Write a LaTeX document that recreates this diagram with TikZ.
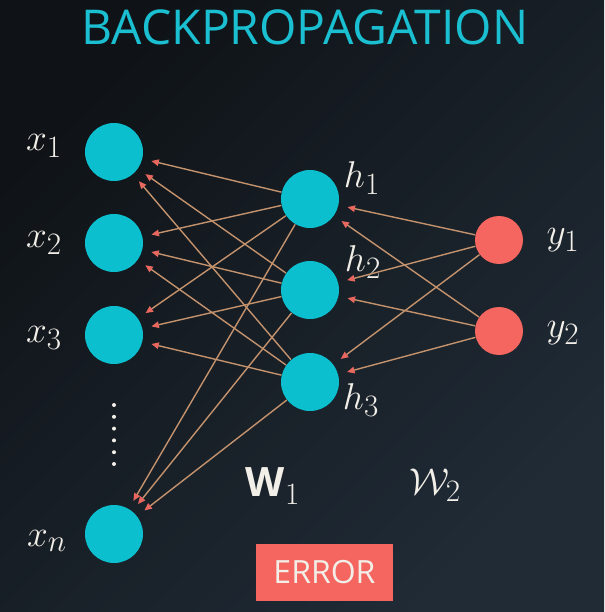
\documentclass[tikz,border=0pt]{standalone}
\usepackage{fontspec}
\setsansfont{Open Sans}
\usetikzlibrary{arrows.meta}
\definecolor{bgtl}{HTML}{0F1317}
\definecolor{bgbr}{HTML}{202B36}
\definecolor{nodecyan}{HTML}{0BBFCF}
\definecolor{titlecyan}{HTML}{1ABFD1}
\definecolor{nodered}{HTML}{F4665F}
\definecolor{edgetan}{HTML}{C4926C}
\definecolor{tipred}{HTML}{E8675E}
\definecolor{labelwhite}{HTML}{F2EEE8}

\begin{document}
\begin{tikzpicture}[x=1pt, y=-1pt, thick,
  inp/.style = {circle, fill=nodecyan, minimum size=58pt, inner sep=0pt},
  outp/.style = {circle, fill=nodered, minimum size=48pt, inner sep=0pt},
  lab/.style = {text=labelwhite, font=\fontsize{24.88}{28}\selectfont, scale=1.5, transform shape},
  back/.style = {draw=edgetan, line width=1.4pt, -{Triangle[length=7.5pt,width=6.5pt,color=tipred]}, shorten >=9pt}]
  \useasboundingbox (0,0) rectangle (604,612);
  \shade[top color=bgtl, bottom color=bgbr, shading angle=45] (0,0) rectangle (604,612);
  \node[text=titlecyan, font=\sffamily\fontsize{48}{50}\selectfont] (title) at (305,27) {BACKPROPAGATION};
  \node[inp] (x1) at (114,152) {};
  \node[inp] (x2) at (114,243) {};
  \node[inp] (x3) at (114,335) {};
  \node[inp] (xn) at (114,534) {};
  \node[inp] (h1) at (310,199) {};
  \node[inp] (h2) at (310,290) {};
  \node[inp] (h3) at (310,382) {};
  \node[outp] (y1) at (499,240) {};
  \node[outp] (y2) at (499,331) {};
  \node[lab] (lx1) at (44,146) {$x_1$};
  \node[lab] (lx2) at (44,243) {$x_2$};
  \node[lab] (lx3) at (44,338) {$x_3$};
  \node[lab] (lxn) at (47,541) {$x_n$};
  \node[lab] (lh1) at (362,178) {$h_1$};
  \node[lab] (lh2) at (363,262) {$h_2$};
  \node[lab] (lh3) at (361,400) {$h_3$};
  \node[lab] (ly1) at (563,240) {$y_1$};
  \node[lab] (ly2) at (563,333) {$y_2$};
  \node[lab] (w1) at (273,486) {{\sffamily\bfseries\fontsize{27}{30}\selectfont W}$_1$};
  \node[lab] (w2) at (435,485) {$\mathcal{W}_2$};
  \node[fill=nodered, minimum width=137pt, minimum height=57pt, text=labelwhite, font=\sffamily\fontsize{32}{34}\selectfont] (err) at (324.5,572.5) {ERROR};
  \foreach \k in {0,...,5}
    \fill[labelwhite] (114,405+11.8*\k) circle (2pt);
  \draw[back] (h1) to (x1);
  \draw[back] (h1) to (x2);
  \draw[back] (h1) to (x3);
  \draw[back] (h1) to (xn);
  \draw[back] (h2) to (x1);
  \draw[back] (h2) to (x2);
  \draw[back] (h2) to (x3);
  \draw[back] (h2) to (xn);
  \draw[back] (h3) to (x1);
  \draw[back] (h3) to (x2);
  \draw[back] (h3) to (x3);
  \draw[back] (h3) to (xn);
  \draw[back] (y1) to (h1);
  \draw[back] (y1) to (h2);
  \draw[back] (y1) to (h3);
  \draw[back] (y2) to (h1);
  \draw[back] (y2) to (h2);
  \draw[back] (y2) to (h3);
\end{tikzpicture}
\end{document}
